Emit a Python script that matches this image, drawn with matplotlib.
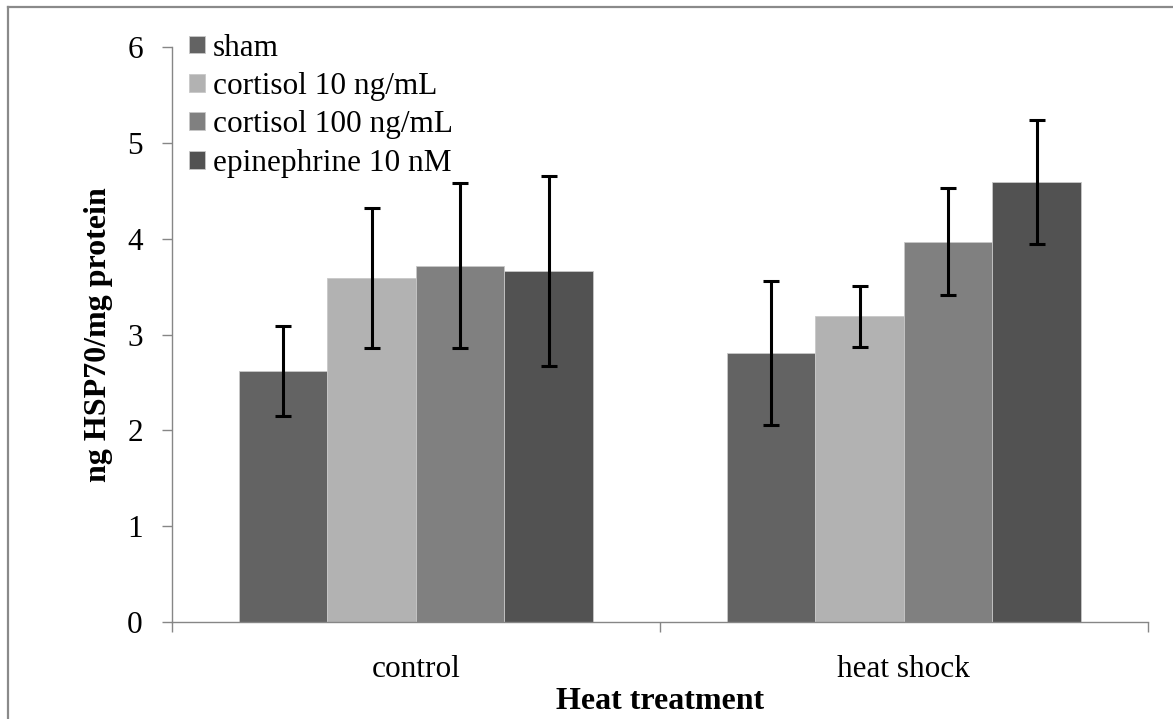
import numpy as np
import matplotlib
matplotlib.use("Agg")
import matplotlib.pyplot as plt
from matplotlib.lines import Line2D

plt.rcParams['font.family'] = ['Liberation Serif', 'DejaVu Serif']

groups = ['control', 'heat shock']
treatments = ['sham', 'cortisol 10 ng/mL', 'cortisol 100 ng/mL', 'epinephrine 10 nM']
colors = ['#636363', '#b2b2b2', '#808080', '#525252']

# mean HSP70 per treatment, one entry per heat group
sham = [2.62, 2.81]
cort10 = [3.59, 3.19]
cort100 = [3.72, 3.97]
epi = [3.66, 4.59]

sham_err = [0.47, 0.75]
cort10_err = [0.73, 0.32]
cort100_err = [0.86, 0.56]
epi_err = [0.99, 0.65]

means = [sham, cort10, cort100, epi]
errs = [sham_err, cort10_err, cort100_err, epi_err]

FS = 22.5

fig = plt.figure(figsize=(11.73, 7.19), dpi=100)
ax = fig.add_axes([0.1466, 0.1349, 0.832, 0.7997])

x = np.arange(len(groups))
width = 0.1814
for i, (vals, err, col, lab) in enumerate(zip(means, errs, colors, treatments)):
    pos = x + (i - 1.5) * width
    ax.bar(pos, vals, width, color=col, label=lab, edgecolor='#c8c8c8', linewidth=0.6, zorder=2)
    ax.errorbar(pos, vals, yerr=err, fmt='none', ecolor='black', elinewidth=2.2,
                capsize=5.5, capthick=2.2, zorder=3)

ax.set_xlim(-0.5, 1.5)
ax.set_ylim(0, 6)
ax.set_yticks(range(7))
ax.set_xticks([-0.5, 0.5, 1.5])
ax.set_xticklabels([])
ax.set_xticks(x, minor=True)
ax.set_xticklabels(groups, minor=True, fontsize=FS)
ax.tick_params(axis='x', which='minor', length=0, pad=24)
ax.tick_params(axis='both', which='major', direction='out', length=7, width=1,
               color='#868686', labelsize=FS)
ax.tick_params(axis='y', pad=14)

for s in ['top', 'right']:
    ax.spines[s].set_visible(False)
for s in ['left', 'bottom']:
    ax.spines[s].set_color('#868686')
    ax.spines[s].set_linewidth(1)

ax.set_xlabel('Heat treatment', fontsize=23, fontweight='bold', labelpad=2)
ax.set_ylabel('ng HSP70/mg protein', fontsize=23, fontweight='bold', labelpad=10)

leg = ax.legend(loc='upper left', bbox_to_anchor=(0.005, 1.045), frameon=False, fontsize=FS,
                handlelength=0.5, handleheight=0.5, handletextpad=0.25, labelspacing=0.3,
                borderaxespad=0)

# outer chart border (only top and left visible)
fig.add_artist(Line2D([8 / 1173, 8 / 1173], [0, 1 - 7 / 719], transform=fig.transFigure,
                      color='#8a8a8a', linewidth=1.6))
fig.add_artist(Line2D([8 / 1173, 1], [1 - 7 / 719, 1 - 7 / 719], transform=fig.transFigure,
                      color='#8a8a8a', linewidth=1.6))

fig.savefig('out.png', dpi=100)
